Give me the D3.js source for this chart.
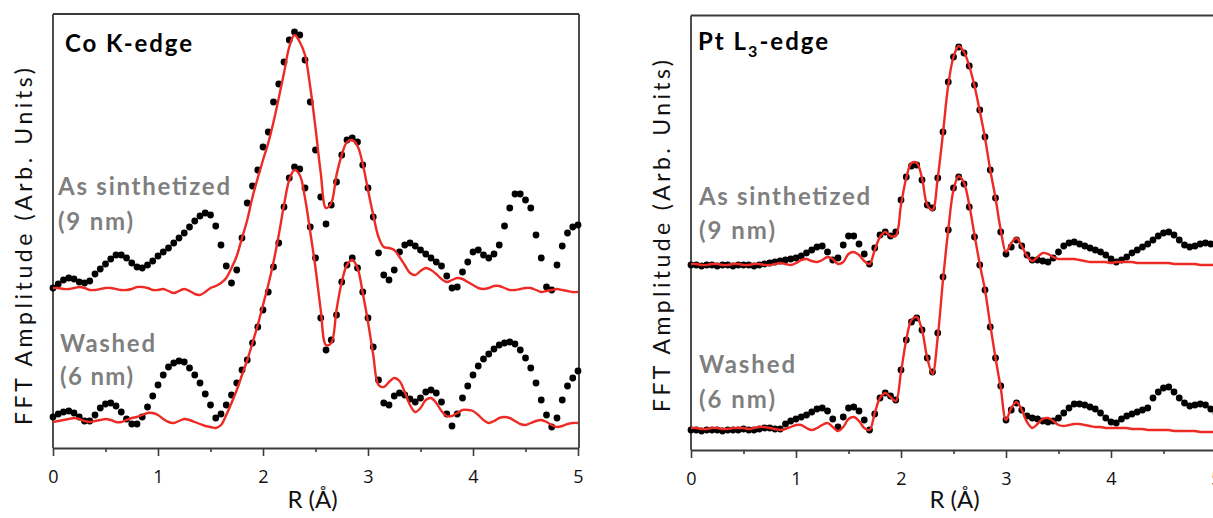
<!DOCTYPE html>
<html><head><meta charset="utf-8">
<script src="https://cdn.jsdelivr.net/npm/d3@7"></script>
<style>html,body{margin:0;padding:0;background:#fff;} svg{display:block;}</style>
</head><body>
<svg id="chart" width="1213" height="518"></svg>
<script>
// R grid (Å), sampled every 0.05 Å
const rGrid = d3.range(101).map(i => +(i * 0.05).toFixed(2));

// Co K-edge (arbitrary units, height above the baseline)
const coAsData = [160,164,168,170,169,166,165,167,174,179,
184,189,193,193,190,185,181,180,183,187,
192,196,200,205,210,215,221,227,232,235,
233,222,203,182,165,178,210,245,262,278,
301,316,346,364,386,408,416,413,388,346,
298,251,224,243,266,293,308,310,306,283,
260,231,195,173,168,178,196,203,205,202,
198,194,190,186,182,172,160,161,176,186,
196,198,193,190,194,203,222,240,254,254,
248,240,213,190,161,158,183,202,215,221,
223];
const coAsFit = [160,160,159,159,160,161,160,158,158,159,
160,160,159,158,158,159,161,161,160,158,
158,159,157,155,157,159,157,154,153,156,
160,162,165,170,180,192,210,228,251,270,
288,305,326,350,375,401,413,406,393,361,
320,275,240,245,273,293,306,308,302,284,
258,233,211,201,200,198,191,183,175,173,
177,180,178,174,169,166,168,170,169,166,
163,160,159,160,162,162,160,158,158,159,
160,160,158,156,157,158,159,158,157,156,
156];
const coWashData = [31,34,36,37,35,31,27,27,33,40,
44,45,42,36,29,24,24,31,41,52,
63,73,81,85,87,86,80,73,65,54,
43,30,34,43,53,65,78,88,105,121,
138,156,181,205,241,270,281,279,260,221,
190,130,98,108,133,166,183,190,180,156,
130,101,68,45,43,52,55,53,49,46,
50,56,58,55,46,34,22,34,50,62,
73,82,89,94,99,103,105,106,104,98,
90,80,65,48,33,21,30,48,62,70,
77];
const coWashFit = [26,27,28,29,30,29,27,26,27,28,
29,28,26,26,28,30,31,33,35,35,
33,29,26,25,27,29,28,26,24,22,
21,20,23,33,45,58,73,88,105,123,
143,163,186,213,243,268,278,273,250,216,
180,138,103,105,138,166,183,188,180,155,
126,93,63,61,66,70,67,56,43,36,
40,48,50,45,37,32,32,35,38,38,
37,33,28,25,27,30,31,30,27,24,
23,25,27,28,26,23,21,22,24,25,
25];

// Pt L3-edge
const ptAsData = [185,185,184,185,185,184,185,185,184,185,
185,185,184,185,186,187,188,189,190,191,
192,194,197,200,203,204,198,190,192,205,
214,214,206,196,186,202,215,218,214,218,
250,273,284,285,270,245,242,272,318,368,
393,403,397,384,365,340,313,280,252,218,
196,203,210,204,195,190,190,189,188,192,
198,204,207,208,206,204,202,200,198,195,
191,188,190,193,197,200,203,206,210,214,
217,218,215,210,205,203,204,206,207,206,
204];
const ptAsFit = [186,186,185,185,186,186,185,185,186,186,
185,185,186,186,185,185,186,187,186,185,
187,190,191,189,188,190,193,191,186,188,
196,198,195,189,186,200,213,218,214,214,
245,272,287,287,272,245,240,272,317,365,
393,404,398,384,364,339,312,280,252,220,
198,207,212,204,194,189,193,197,196,193,
191,191,191,191,190,189,188,188,188,188,
187,188,188,188,188,187,187,187,187,187,
187,187,186,186,186,186,186,185,185,185,
185];
const ptWashData = [20,20,19,20,20,20,19,20,20,20,
21,20,20,21,22,22,21,21,26,29,
31,33,35,38,41,42,39,31,23,33,
42,43,39,30,20,36,52,57,54,50,
80,110,128,132,120,92,78,117,173,220,
262,273,266,243,213,185,160,123,92,64,
30,40,47,40,34,32,31,29,28,29,
32,37,42,46,46,45,43,41,37,32,
28,27,31,34,36,38,40,42,52,58,
62,63,58,52,47,44,45,46,45,41,
37];
const ptWashFit = [22,22,21,21,22,22,21,21,22,22,
22,21,22,23,23,22,21,20,21,23,
25,25,22,20,22,25,27,23,19,23,
31,33,29,22,20,37,52,57,53,49,
78,110,130,133,120,92,76,113,170,220,
260,274,267,245,215,186,160,125,92,62,
30,42,48,40,28,22,26,31,32,29,
25,24,25,26,26,25,24,23,23,22,
22,22,22,22,21,21,21,20,20,20,
20,20,19,19,19,19,19,18,18,18,
18];

const majorTicks = [0, 1, 2, 3, 4, 5];
const minorTicks = [0.5, 1.5, 2.5, 3.5, 4.5];
const tickLabels = ["0", "1", "2", "3", "4", "5"];
const yTitle = "FFT Amplitude (Arb. Units)";
const xTitle = "R (\u00C5)";
const sampleNames = ["As sinthetized", "(9 nm)", "Washed", "(6 nm)"];

const RED = "#ee2a24";
const GREY = "#7f7f7f";
const FRAME = "#3a3a3a";

const svg = d3.select("#chart");

const panels = [
  { id: "co", x0: 53, x1: 578, yb: 448, yt: 14, yMax: 434, rightBorder: true,
    series: [coAsData, coAsFit, coWashData, coWashFit],
    yLabel: { x: 32, y: 246.5, len: 357 },
    xLabel: { x: 312.5, y: 508 },
    names: [ {x:58,y:195,len:172}, {x:58,y:230,len:75}, {x:60,y:352,len:95}, {x:60,y:385,len:73} ],
    title: { x: 65, y: 52 } },
  { id: "pt", x0: 691, x1: 1216, yb: 450, yt: 15.5, yMax: 434.5, rightBorder: false,
    series: [ptAsData, ptAsFit, ptWashData, ptWashFit],
    yLabel: { x: 670, y: 236, len: 352 },
    xLabel: { x: 954.5, y: 508 },
    names: [ {x:699,y:205,len:171}, {x:699,y:239,len:76}, {x:699,y:373,len:96}, {x:699,y:408,len:76} ],
    title: { x: 698, y: 50 } }
];

panels.forEach(p => {
  const x = d3.scaleLinear().domain([0, 5]).range([p.x0, p.x1]);
  const y = d3.scaleLinear().domain([0, p.yMax]).range([p.yb, p.yt]);
  const g = svg.append("g").attr("class", "panel-" + p.id);

  // frame
  g.append("line").attr("x1", p.x0).attr("x2", p.x0).attr("y1", p.yt).attr("y2", p.yb)
    .attr("stroke", FRAME).attr("stroke-width", 1.8);
  g.append("line").attr("x1", p.x0).attr("x2", p.x1 + 1).attr("y1", p.yt).attr("y2", p.yt)
    .attr("stroke", FRAME).attr("stroke-width", 1.8);
  if (p.rightBorder) {
    g.append("line").attr("x1", p.x1 + 1).attr("x2", p.x1 + 1).attr("y1", p.yt).attr("y2", p.yb)
      .attr("stroke", FRAME).attr("stroke-width", 1.8);
  }

  // axes
  const axMajor = g.append("g").attr("transform", `translate(0,${p.yb})`)
    .call(d3.axisBottom(x).tickValues(majorTicks).tickFormat((d, i) => tickLabels[i])
      .tickSize(8).tickSizeOuter(0));
  axMajor.select(".domain").attr("stroke", FRAME).attr("stroke-width", 1.8);
  axMajor.selectAll(".tick line").attr("stroke", FRAME).attr("stroke-width", 1.6);
  axMajor.selectAll(".tick text").attr("y", 35).attr("dy", null)
    .attr("font-family", "'Open Sans', sans-serif").attr("font-size", 18).attr("fill", "#111");
  const axMinor = g.append("g").attr("transform", `translate(0,${p.yb})`)
    .call(d3.axisBottom(x).tickValues(minorTicks).tickFormat("").tickSize(4).tickSizeOuter(0));
  axMinor.select(".domain").remove();
  axMinor.selectAll(".tick line").attr("stroke", FRAME).attr("stroke-width", 1.6);

  // data (black dots) and fits (red lines)
  const line = d3.line().x(d => x(d[0])).y(d => y(d[1])).curve(d3.curveCatmullRom.alpha(0.5));
  [0, 2].forEach(k => {
    g.append("g").selectAll("circle").data(d3.zip(rGrid, p.series[k])).join("circle")
      .attr("cx", d => x(d[0])).attr("cy", d => y(d[1])).attr("r", 3.4).attr("fill", "#000");
  });
  [1, 3].forEach(k => {
    g.append("path").datum(d3.zip(rGrid, p.series[k])).attr("d", line)
      .attr("fill", "none").attr("stroke", RED).attr("stroke-width", 2.4);
  });

  // axis titles
  g.append("text").text(yTitle)
    .attr("transform", `translate(${p.yLabel.x},${p.yLabel.y}) rotate(-90)`)
    .attr("text-anchor", "middle").attr("font-family", "Lato, sans-serif").attr("font-size", 23)
    .attr("textLength", p.yLabel.len).attr("lengthAdjust", "spacing").attr("fill", "#111");
  g.append("text").text(xTitle).attr("x", p.xLabel.x).attr("y", p.xLabel.y)
    .attr("text-anchor", "middle").attr("font-family", "Lato, sans-serif").attr("font-size", 24)
    .attr("fill", "#111");

  // sample names
  p.names.forEach((n, i) => {
    g.append("text").text(sampleNames[i]).attr("x", n.x).attr("y", n.y)
      .attr("font-family", "Lato, sans-serif").attr("font-weight", "bold").attr("font-size", 24)
      .attr("fill", GREY).attr("textLength", n.len).attr("lengthAdjust", "spacing");
  });
});

// titles
svg.append("text").text("Co K-edge").attr("x", 65).attr("y", 52)
  .attr("font-family", "Lato, sans-serif").attr("font-weight", "bold").attr("font-size", 24)
  .attr("fill", "#000").attr("textLength", 127).attr("lengthAdjust", "spacing");
const pt = svg.append("text").attr("x", 698).attr("y", 50)
  .attr("font-family", "Lato, sans-serif").attr("font-weight", "bold").attr("font-size", 24)
  .attr("fill", "#000").attr("letter-spacing", 2);
pt.append("tspan").text("Pt L");
pt.append("tspan").text("3").attr("font-size", 16).attr("dy", 7);
pt.append("tspan").text("-edge").attr("dy", -7);
</script>
</body></html>
